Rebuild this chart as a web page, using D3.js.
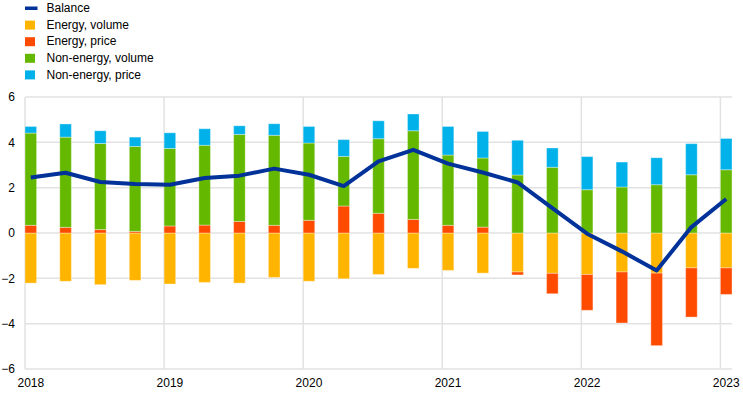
<!DOCTYPE html>
<html>
<head>
<meta charset="utf-8">
<script src="https://cdn.jsdelivr.net/npm/d3@7"></script>
<style>
  body { margin: 0; background: #fff; }
  text { font-family: "Liberation Sans", Arial, sans-serif; }
</style>
</head>
<body>
<svg width="743" height="395"></svg>
<script>
var quarters = ["2018Q1","2018Q2","2018Q3","2018Q4","2019Q1","2019Q2","2019Q3","2019Q4",
                "2020Q1","2020Q2","2020Q3","2020Q4","2021Q1","2021Q2","2021Q3","2021Q4",
                "2022Q1","2022Q2","2022Q3","2022Q4","2023Q1"];

var energyVolume = [-2.21,-2.13,-2.28,-2.09,-2.25,-2.18,-2.21,-1.96,-2.13,-2.02,-1.83,
                    -1.56,-1.65,-1.77,-1.72,-1.78,-1.83,-1.72,-1.77,-1.54,-1.54];
var energyPrice = [0.34,0.25,0.15,0.07,0.31,0.35,0.51,0.34,0.56,1.19,0.87,
                   0.60,0.34,0.26,-0.13,-0.90,-1.58,-2.25,-3.20,-2.17,-1.17];
var nonEnergyVolume = [4.07,3.98,3.80,3.75,3.42,3.52,3.84,3.97,3.41,2.19,3.29,
                       3.91,3.10,3.05,2.56,2.90,1.91,2.03,2.13,2.57,2.79];
var nonEnergyPrice = [0.29,0.58,0.56,0.41,0.69,0.73,0.38,0.51,0.73,0.74,0.79,
                      0.74,1.26,1.17,1.53,0.85,1.46,1.10,1.19,1.37,1.38];
var balance = [2.45,2.66,2.25,2.16,2.13,2.43,2.53,2.84,2.57,2.07,3.16,
               3.67,3.06,2.67,2.23,1.10,-0.03,-0.81,-1.65,0.26,1.50];

var yTicks = [-6, -4, -2, 0, 2, 4, 6];

var keys = ["ev", "ep", "nv", "np"];
var names = {ev: "Energy, volume", ep: "Energy, price", nv: "Non-energy, volume", np: "Non-energy, price"};
var colors = {ev: "#ffb400", ep: "#ff4b00", nv: "#65b800", np: "#00b1ea"};
var lineColor = "#003299";

var svg = d3.select("svg"),
    plot = {left: 25, right: 732, top: 97, bottom: 369};

var table = quarters.map(function(q, i) {
  return {q: q, ev: energyVolume[i], ep: energyPrice[i], nv: nonEnergyVolume[i], np: nonEnergyPrice[i], bal: balance[i]};
});

var x = d3.scaleBand()
    .domain(quarters)
    .range([plot.left, plot.right])
    .paddingInner(2 / 3)
    .paddingOuter(0);

var y = d3.scaleLinear()
    .domain([-6, 6])
    .range([plot.bottom, plot.top]);

// grid
var grid = svg.append("g").attr("stroke", "#e2e2e2").attr("stroke-width", 1.5);
grid.selectAll("line.h")
    .data(yTicks)
  .enter().append("line")
    .attr("class", "h")
    .attr("x1", plot.left).attr("x2", plot.right)
    .attr("y1", function(d) { return y(d); })
    .attr("y2", function(d) { return y(d); });

var yearStarts = quarters.filter(function(q) { return q.slice(4) === "Q1"; });
grid.selectAll("line.v")
    .data(yearStarts)
  .enter().append("line")
    .attr("class", "v")
    .attr("x1", function(d) { return x(d); })
    .attr("x2", function(d) { return x(d); })
    .attr("y1", plot.top).attr("y2", plot.bottom);

// y axis labels
svg.append("g")
    .attr("transform", "translate(" + (plot.left - 10) + ",0)")
    .call(d3.axisLeft(y).tickValues(yTicks).tickSize(0).tickPadding(0).tickFormat(d3.format("d")))
    .call(function(g) { g.select(".domain").remove(); })
    .selectAll("text")
    .attr("font-size", 12)
    .attr("fill", "#000")
    .attr("font-family", "Liberation Sans, Arial, sans-serif");

// x axis labels
svg.append("g")
    .attr("transform", "translate(0," + (plot.bottom + 5) + ")")
    .call(d3.axisBottom(x).tickValues(yearStarts).tickSize(0).tickPadding(4).tickFormat(function(d) { return d.slice(0, 4); }))
    .call(function(g) { g.select(".domain").remove(); })
    .selectAll("text")
    .attr("font-size", 12)
    .attr("fill", "#000")
    .attr("font-family", "Liberation Sans, Arial, sans-serif");

// stacked bars
var series = d3.stack().keys(keys).offset(d3.stackOffsetDiverging)(table);

svg.append("g")
  .selectAll("g")
    .data(series)
  .enter().append("g")
    .attr("fill", function(s) { return colors[s.key]; })
  .selectAll("rect")
    .data(function(s) { return s; })
  .enter().append("rect")
    .attr("x", function(d) { return x(d.data.q); })
    .attr("width", x.bandwidth())
    .attr("y", function(d) { return y(Math.max(d[0], d[1])); })
    .attr("height", function(d) { return Math.abs(y(d[0]) - y(d[1])); })
    .attr("stroke", "#fff")
    .attr("stroke-opacity", 0.35)
    .attr("stroke-width", 1);

// balance line
svg.append("path")
    .datum(table)
    .attr("fill", "none")
    .attr("stroke", lineColor)
    .attr("stroke-width", 4)
    .attr("stroke-linejoin", "round")
    .attr("d", d3.line()
        .x(function(d) { return x(d.q) + x.bandwidth() / 2; })
        .y(function(d) { return y(d.bal); }));

// legend
var legendItems = [{label: "Balance", type: "line", color: lineColor}].concat(
  keys.map(function(k) { return {label: names[k], type: "box", color: colors[k]}; }));

var legend = svg.append("g")
  .selectAll("g")
    .data(legendItems)
  .enter().append("g")
    .attr("transform", function(d, i) { return "translate(25," + (8 + i * 16.6) + ")"; });

legend.filter(function(d) { return d.type === "line"; })
  .append("rect")
    .attr("x", 0).attr("y", -1.5).attr("width", 12.5).attr("height", 3.5)
    .attr("fill", function(d) { return d.color; });

legend.filter(function(d) { return d.type === "box"; })
  .append("rect")
    .attr("x", 0).attr("y", -4).attr("width", 10).attr("height", 9)
    .attr("fill", function(d) { return d.color; });

legend.append("text")
    .attr("x", 21.5)
    .attr("dy", "0.35em")
    .attr("font-size", 12)
    .attr("fill", "#000")
    .text(function(d) { return d.label; });
</script>
</body>
</html>
